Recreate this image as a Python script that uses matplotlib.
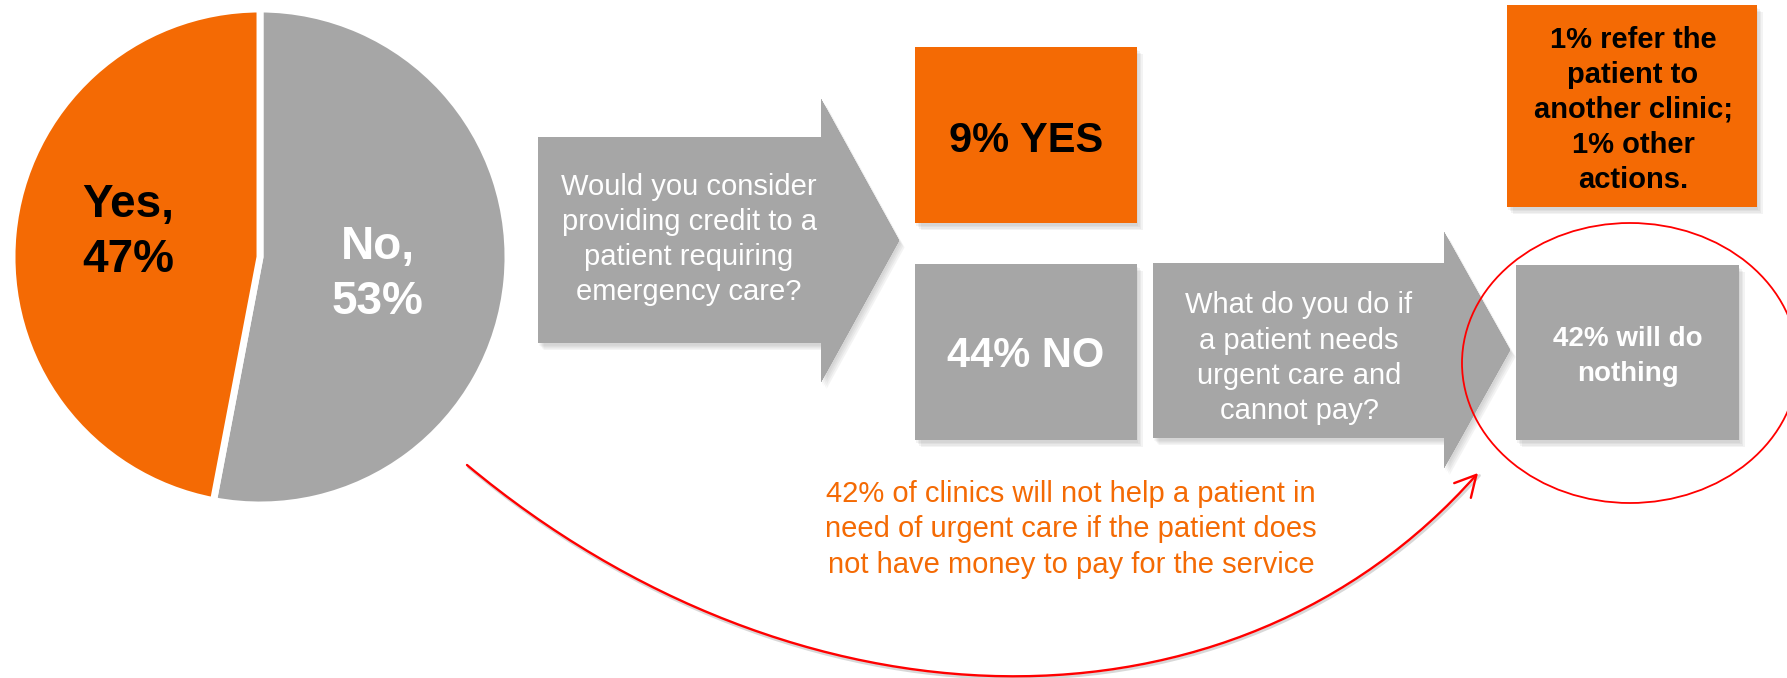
import matplotlib
matplotlib.use("Agg")
import matplotlib.pyplot as plt
from matplotlib.patches import Polygon, Rectangle, Ellipse, FancyArrowPatch
from matplotlib.path import Path
import matplotlib.patheffects as pe

plt.rcParams['font.family'] = ['Liberation Sans', 'DejaVu Sans']

# ---- data ----
pie_labels = ["No", "Yes"]
pie_values = [53, 47]
credit_yes = 9
credit_no = 44
refer_other_clinic = 1
other_actions = 1
do_nothing = 42

question_1 = ["Would you consider", "providing credit to a",
              "patient requiring", "emergency care?"]
question_2 = ["What do you do if", "a patient needs",
              "urgent care and", "cannot pay?"]

ORANGE = "#F46A04"
GRAY = "#A6A6A6"
RED = "#FF0000"

W, H = 1787, 678
DPI = 100
fig = plt.figure(figsize=(W / DPI, H / DPI), dpi=DPI)
ax = fig.add_axes([0, 0, 1, 1])


def Y(y):
    """Convert a top-down pixel row into the axes' upward y."""
    return H - y


# soft drop shadow built from a few faint offset copies
shadow = [pe.withSimplePatchShadow(offset=(o, -o - 1), shadow_rgbFace="#606060", alpha=0.07)
          for o in (1, 2, 3, 4)]
shadow = shadow + [pe.Normal()]


def lines(x, y_center, texts, step, fontsize, **kw):
    """Stack centred lines so that their capital letters sit around y_center."""
    n = len(texts)
    cap_half = 0.358 * fontsize * DPI / 72
    for i, t in enumerate(texts):
        yy = y_center + (i - (n - 1) / 2) * step + cap_half
        ax.text(x, Y(yy), t, ha="center", va="baseline", fontsize=fontsize, **kw)


def box(x0, y0, x1, y1, color):
    r = Rectangle((x0, Y(y1)), x1 - x0, y1 - y0, facecolor=color, edgecolor="none", zorder=2)
    r.set_path_effects(shadow)
    ax.add_patch(r)


def block_arrow(xl, yt, yb, xh, yht, yhb, xtip):
    ym = (yht + yhb) / 2
    pts = [(xl, yt), (xh, yt), (xh, yht), (xtip, ym), (xh, yhb), (xh, yb), (xl, yb)]
    p = Polygon([(x, Y(y)) for x, y in pts], closed=True, facecolor=GRAY, edgecolor="none", zorder=2)
    p.set_path_effects(shadow)
    ax.add_patch(p)


# ---- pie ----
wedges, _ = ax.pie(pie_values, colors=[GRAY, ORANGE], startangle=90, counterclock=False,
                   center=(260, Y(257)), radius=248,
                   wedgeprops=dict(edgecolor="white", linewidth=5))
ax.set_aspect("auto")
ax.set_xlim(0, W)
ax.set_ylim(0, H)
ax.axis("off")

lines(378, 270.5, [f"{pie_labels[0]},", f"{pie_values[0]}%"], 55, 33,
      fontweight="bold", color="white", zorder=4)
lines(128, 228, [f"{pie_labels[1]},", f"{pie_values[1]}%"], 55.5, 33,
      fontweight="bold", color="black", zorder=4)

# ---- first question arrow and answers ----
block_arrow(538, 137, 343, 821, 99, 382, 899)
lines(689, 237.5, question_1, 35, 21, color="white", zorder=4)

box(915, 47, 1137, 223, ORANGE)
lines(1026, 137, [f"{credit_yes}% YES"], 0, 30, fontweight="bold", color="black", zorder=4)
box(915, 264, 1137, 440, GRAY)
lines(1026, 352.5, [f"{credit_no}% NO"], 0, 30, fontweight="bold", color="white", zorder=4)

# ---- second question arrow and answers ----
block_arrow(1153, 263, 438, 1444, 232, 468, 1510)
lines(1299, 356, question_2, 35.3, 21, color="white", zorder=4)

box(1507, 5, 1757, 207, ORANGE)
lines(1633, 107.5, [f"{refer_other_clinic}% refer the", "patient to", "another clinic;",
                    f"{other_actions}% other", "actions."], 35, 21,
      fontweight="bold", color="black", zorder=4)

box(1516, 265, 1739, 440, GRAY)
lines(1628, 353.5, [f"{do_nothing}% will do", "nothing"], 35, 20,
      fontweight="bold", color="white", zorder=4)

# highlight ring
ax.add_patch(Ellipse((1630, Y(363)), 336, 280, fill=False, edgecolor=RED, linewidth=1.3, zorder=5))

# ---- curved connector from the pie to the highlighted answer ----
p0 = (467, 465)
c1 = (797, 740)
c2 = (1233, 750)
p3 = (1478, 473)
codes = [Path.MOVETO, Path.CURVE4, Path.CURVE4, Path.CURVE4]
curve = Path([(x, Y(y)) for x, y in (p0, c1, c2, p3)], codes)
curve_shadow = Path([(x + 1.5, Y(y + 2.5)) for x, y in (p0, c1, c2, p3)], codes)
ax.add_patch(FancyArrowPatch(path=curve_shadow, arrowstyle="-", color="#909090",
                             alpha=0.35, linewidth=2, zorder=4))
ax.add_patch(FancyArrowPatch(path=curve, arrowstyle="->,head_length=15,head_width=8",
                             color=RED, linewidth=1.7, zorder=5))

lines(1071, 527, [f"{do_nothing}% of clinics will not help a patient in",
                  "need of urgent care if the patient does",
                  "not have money to pay for the service"], 35.7, 21,
      color=ORANGE, zorder=4)

fig.savefig("out.png", dpi=DPI)
